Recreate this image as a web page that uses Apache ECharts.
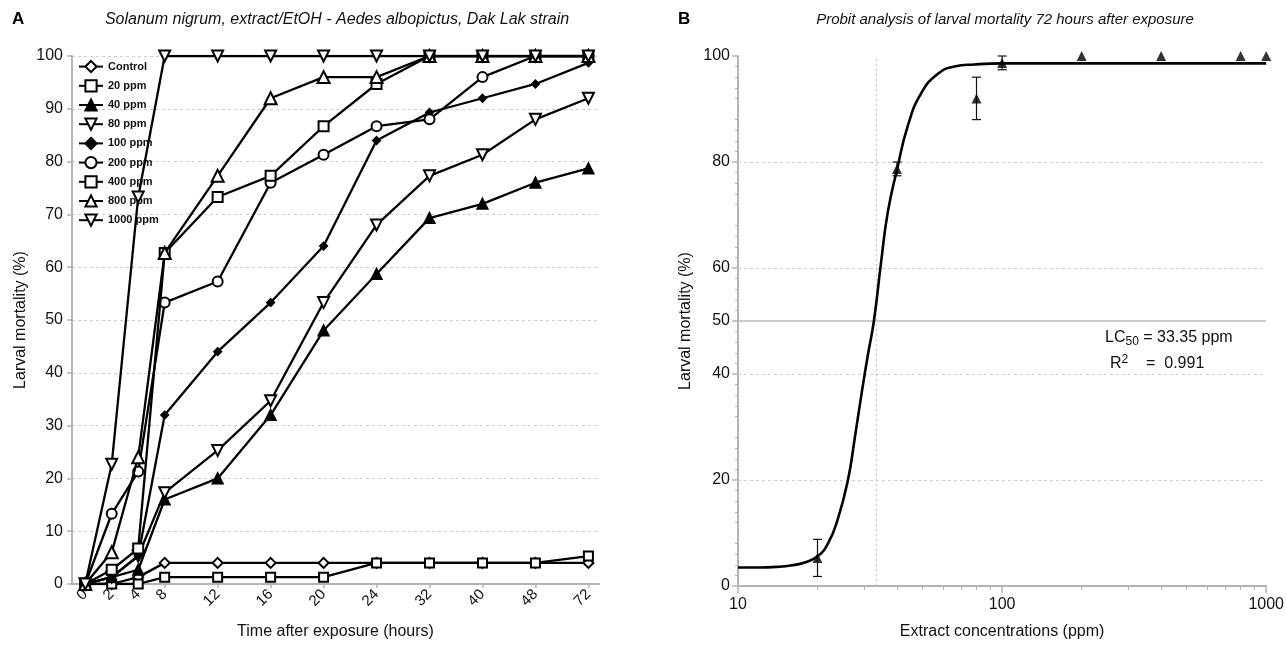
<!DOCTYPE html>
<html><head><meta charset="utf-8">
<script src="https://cdn.jsdelivr.net/npm/echarts@6/dist/echarts.min.js"></script>
<style>html,body{margin:0;padding:0;background:#fff}#c{width:1287px;height:645px}</style>
</head><body><div id="c"></div>
<script>
// ---------- Panel A data ----------
const timeLabels = ['0','2','4','8','12','16','20','24','32','40','48','72'];
const seriesNames = ['Control','20 ppm','40 ppm','80 ppm','100 ppm','200 ppm','400 ppm','800 ppm','1000 ppm'];
const control = [0,0,1.3,4,4,4,4,4,4,4,4,4];
const ppm20   = [0,0,0,1.3,1.3,1.3,1.3,4,4,4,4,5.3];
const ppm40   = [0,1.3,2.7,16,20,32,48,58.7,69.3,72,76,78.7];
const ppm80   = [0,1.3,5.3,17.3,25.3,34.7,53.3,68,77.3,81.3,88,92];
const ppm100  = [0,1.3,5.3,32,44,53.3,64,84,89.3,92,94.7,98.7];
const ppm200  = [0,13.3,21.3,53.3,57.3,76,81.3,86.7,88,96,100,100];
const ppm400  = [0,2.7,6.7,62.7,73.3,77.3,86.7,94.7,100,100,100,100];
const ppm800  = [0,6,24,62.7,77.3,92,96,96,100,100,100,100];
const ppm1000 = [0,22.7,73.3,100,100,100,100,100,100,100,100,100];
const panelAValues = [control,ppm20,ppm40,ppm80,ppm100,ppm200,ppm400,ppm800,ppm1000];

// ---------- Panel B data ----------
const concentrations = [20,40,80,100,200,400,800,1000];
const mortality72    = [5.3,78.7,92,98.7,100,100,100,100];
const mortalityErr   = [3.5,1.3,4,1.3,0,0,0,0];
const fitConc      = [10,12,14,16,18,20,21.9,23.9,26.1,27.6,29.2,31.0,32.7,34.8,36.9,40.1,44,49.3,57,65.9,78.5,100,200,500,1000];
const fitMortality = [3.5,3.5,3.6,3.9,4.5,5.6,8.0,12.7,20.1,27.5,35.5,43.5,50,61,70.5,78.8,86.9,92.9,96.6,98.0,98.4,98.6,98.6,98.6,98.6];
const lc50 = 33.35;
const r2 = 0.991;
const yLabelsB = [0,20,40,50,60,80,100];
const yGridB = [20,40,60,80];
const xMinorB = [20,30,40,50,60,70,80,90,200,300,400,500,600,700,800,900];

// ---------- layout / style ----------
const FONT = 'Liberation Sans, Arial, sans-serif';
const AXIS_GRAY = '#b4b4b4';
const GRID_GRAY = '#cccccc';
// time axis: first three steps are half-width in the reference
const slotOf = i => (i <= 3 ? i : 2 * i - 3);
const slots = timeLabels.map((_, i) => slotOf(i));
const slotLabel = {};
slots.forEach((s, i) => { slotLabel[s] = timeLabels[i]; });

const styles = [
  {symbol:'diamond', size:10, fill:'#fff'},
  {symbol:'rect', size:9, fill:'#fff'},
  {symbol:'triangle', size:10, fill:'#000'},
  {symbol:'triangle', size:11, fill:'#fff', rotate:180},
  {symbol:'diamond', size:7, fill:'#000'},
  {symbol:'circle', size:10, fill:'#fff'},
  {symbol:'rect', size:10, fill:'#fff'},
  {symbol:'triangle', size:12, fill:'#fff'},
  {symbol:'triangle', size:11, fill:'#fff', rotate:180}
];

const seriesA = seriesNames.map((name, k) => ({
  name, type:'line', xAxisIndex:0, yAxisIndex:0,
  data: panelAValues[k].map((v, i) => [slotOf(i), v]),
  symbol: styles[k].symbol, symbolSize: styles[k].size, symbolRotate: styles[k].rotate || 0,
  showAllSymbol: true,
  lineStyle: {color:'#000', width:2.3},
  itemStyle: {color: styles[k].fill, borderColor:'#000', borderWidth:2},
  emphasis: {disabled:true}, animation:false, z: 2 + k
}));

const chart = echarts.init(document.getElementById('c'), null, {renderer:'canvas'});
chart.setOption({
  animation:false,
  backgroundColor:'#fff',
  textStyle:{fontFamily:FONT},
  grid:[
    {left:72, top:56, width:527, height:530},
    {left:738, top:56, width:529, height:530}
  ],
  legend:{
    show:true, orient:'vertical', left:73, top:55,
    itemWidth:24, itemHeight:14, itemGap:6,
    data: seriesNames,
    textStyle:{fontFamily:FONT, fontSize:11, fontWeight:'bold', color:'#111'},
    selectedMode:false
  },
  xAxis:[
    {
      type:'value', gridIndex:0, min:-0.5, max:19.4,
      name:'Time after exposure (hours)', nameLocation:'middle', nameGap:40,
      nameTextStyle:{fontFamily:FONT, fontSize:16, color:'#111'},
      axisLine:{show:true, onZero:false, lineStyle:{color:AXIS_GRAY, width:2}},
      axisTick:{show:true, length:4, customValues:slots, lineStyle:{color:AXIS_GRAY, width:1.5}},
      axisLabel:{customValues:slots, formatter:v => slotLabel[Math.round(v)] || '', rotate:45, margin:8,
                 fontFamily:FONT, fontSize:15, color:'#111'},
      splitLine:{show:false}
    },
    {
      type:'log', gridIndex:1, logBase:10, min:10, max:1000,
      name:'Extract concentrations (ppm)', nameLocation:'middle', nameGap:38,
      nameTextStyle:{fontFamily:FONT, fontSize:16, color:'#111'},
      axisLine:{show:true, onZero:false, lineStyle:{color:AXIS_GRAY, width:2}},
      axisTick:{show:true, length:7, lineStyle:{color:AXIS_GRAY, width:1.5}},
      axisLabel:{margin:11, fontFamily:FONT, fontSize:16, color:'#111', formatter:v => String(Math.round(v))},
      splitLine:{show:false}
    },
    {
      type:'log', gridIndex:1, logBase:10, min:10, max:1000, position:'bottom',
      axisLine:{show:false, onZero:false},
      axisTick:{show:true, length:4, customValues:xMinorB, lineStyle:{color:AXIS_GRAY, width:1.2}},
      axisLabel:{show:false}, splitLine:{show:false}
    }
  ],
  yAxis:[
    {
      type:'value', gridIndex:0, min:0, max:100, interval:10,
      name:'Larval mortality (%)', nameLocation:'middle', nameGap:43,
      nameTextStyle:{fontFamily:FONT, fontSize:16, color:'#111'},
      axisLine:{show:true, onZero:false, lineStyle:{color:AXIS_GRAY, width:2}},
      axisTick:{show:true, length:5, lineStyle:{color:AXIS_GRAY, width:1.5}},
      axisLabel:{margin:9, fontFamily:FONT, fontSize:16, color:'#111'},
      splitLine:{show:true, lineStyle:{color:GRID_GRAY, type:[3,3], width:1}}
    },
    {
      type:'value', gridIndex:1, min:0, max:100, interval:10,
      name:'Larval mortality (%)', nameLocation:'middle', nameGap:44,
      nameTextStyle:{fontFamily:FONT, fontSize:16, color:'#111'},
      axisLine:{show:true, onZero:false, lineStyle:{color:AXIS_GRAY, width:2}},
      axisTick:{show:true, length:6, customValues:yLabelsB, lineStyle:{color:AXIS_GRAY, width:1.5}},
      minorTick:{show:true, splitNumber:5, length:3, lineStyle:{color:AXIS_GRAY, width:1}},
      axisLabel:{customValues:yLabelsB, margin:8, fontFamily:FONT, fontSize:16, color:'#111'},
      splitLine:{show:false}
    }
  ],
  series: seriesA.concat([
    {
      name:'grid-b', type:'line', xAxisIndex:1, yAxisIndex:1, data:[], silent:true, z:1,
      markLine:{
        silent:true, symbol:'none', animation:false, label:{show:false},
        data: yGridB.map(v => ({yAxis:v, lineStyle:{color:GRID_GRAY, type:[3,3], width:1}}))
          .concat([{yAxis:50, lineStyle:{color:'#bbbbbb', type:'solid', width:1.6}},
                   {xAxis:lc50, lineStyle:{color:'#c4c4c4', type:[2,3], width:1.2}}])
      }
    },
    {
      name:'fit', type:'line', xAxisIndex:1, yAxisIndex:1,
      data: fitConc.map((c, i) => [c, fitMortality[i]]),
      smooth:0.5, showSymbol:false, symbol:'none',
      lineStyle:{color:'#000', width:2.6}, z:5, silent:true
    },
    {
      name:'errors', type:'custom', xAxisIndex:1, yAxisIndex:1, z:6, silent:true, clip:false,
      data: concentrations.map((c, i) => [c, mortality72[i], mortalityErr[i]]),
      renderItem(params, api){
        const x = api.value(0), m = api.value(1), e = api.value(2);
        if (!e) return null;
        const t = api.coord([x, m + e]), b = api.coord([x, m - e]);
        const w = 4.5, st = {stroke:'#111', lineWidth:1.2};
        return {type:'group', children:[
          {type:'line', shape:{x1:t[0], y1:t[1], x2:b[0], y2:b[1]}, style:st},
          {type:'line', shape:{x1:t[0]-w, y1:t[1], x2:t[0]+w, y2:t[1]}, style:st},
          {type:'line', shape:{x1:b[0]-w, y1:b[1], x2:b[0]+w, y2:b[1]}, style:st}
        ]};
      }
    },
    {
      name:'observed', type:'scatter', xAxisIndex:1, yAxisIndex:1, z:7, silent:true, clip:false,
      data: concentrations.map((c, i) => [c, mortality72[i]]),
      symbol:'triangle', symbolSize:10, itemStyle:{color:'#000'}
    }
  ]),
  graphic:[
    {type:'text', left:12, top:11, style:{text:'A', font:'bold 17px ' + FONT, fill:'#000'}},
    {type:'text', left:678, top:11, style:{text:'B', font:'bold 17px ' + FONT, fill:'#000'}},
    {type:'text', x:337, y:20, style:{text:'Solanum nigrum, extract/EtOH - Aedes albopictus, Dak Lak strain',
      font:'italic 16px ' + FONT, fill:'#111', align:'center', verticalAlign:'middle'}},
    {type:'text', x:1005, y:20, style:{text:'Probit analysis of larval mortality 72 hours after exposure',
      font:'italic 15px ' + FONT, fill:'#111', align:'center', verticalAlign:'middle'}},
    {type:'text', x:1105, y:338, style:{
      text:'{n|LC}{s|50}{n| = ' + lc50.toFixed(2) + ' ppm}',
      verticalAlign:'middle',
      rich:{n:{font:'16px ' + FONT, fill:'#111', verticalAlign:'middle'},
            s:{font:'12px ' + FONT, fill:'#111', padding:[8,0,0,0], verticalAlign:'middle'}}}},
    {type:'text', x:1110, y:364, style:{
      text:'{n|R}{p|2}{n|    =  ' + r2.toFixed(3) + '}',
      verticalAlign:'middle',
      rich:{n:{font:'16px ' + FONT, fill:'#111', verticalAlign:'middle'},
            p:{font:'12px ' + FONT, fill:'#111', padding:[0,0,9,0], verticalAlign:'middle'}}}}
  ]
});
</script>
</body></html>
